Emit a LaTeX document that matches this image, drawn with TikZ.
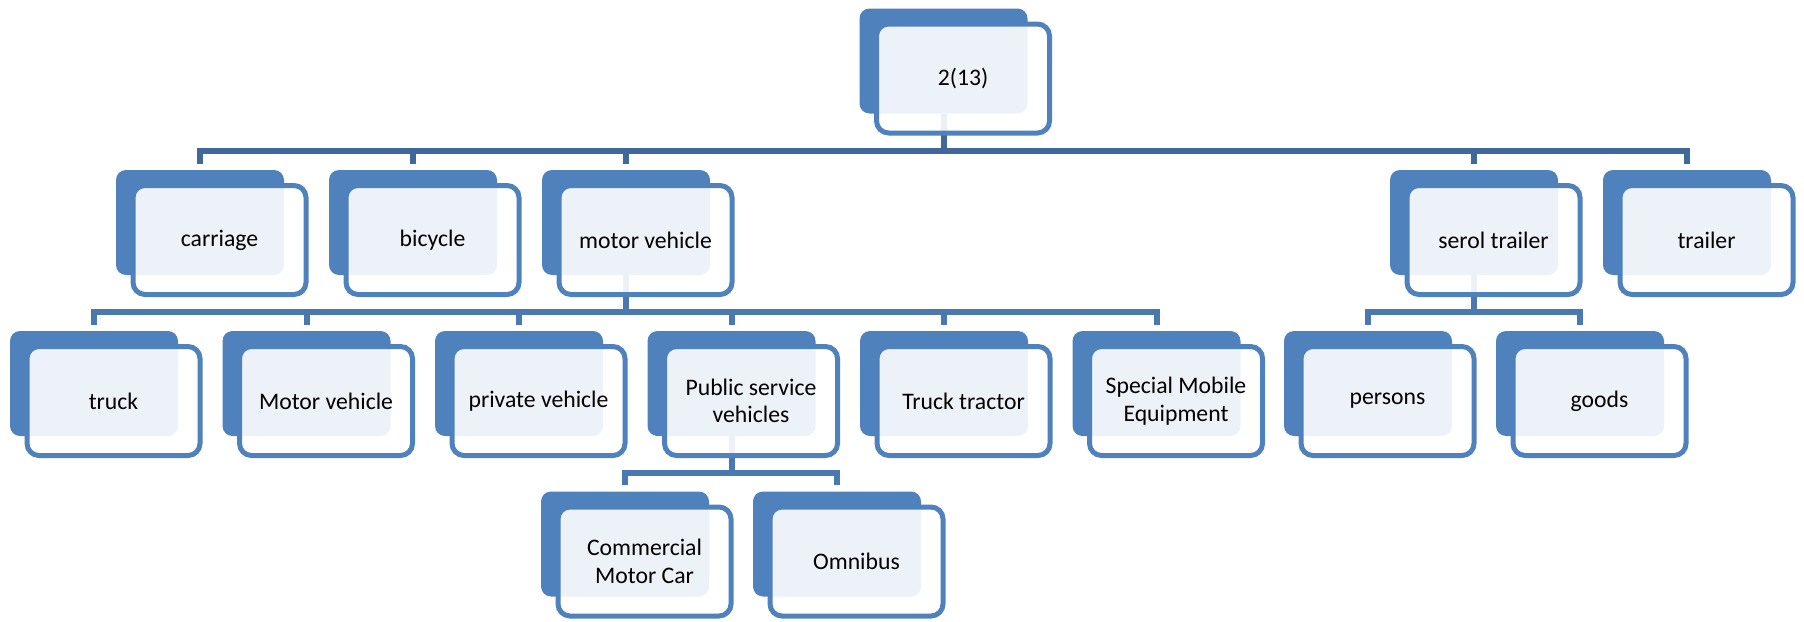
\documentclass[tikz,border=0pt]{standalone}
\usepackage{fontspec}
\setmainfont{Carlito}
\usetikzlibrary{backgrounds}
\definecolor{sablue}{HTML}{4F81BD}
\definecolor{connA}{HTML}{40689B}
\definecolor{connB}{HTML}{4A78B1}
\newcommand\hierbox[4]{%
  \node[backbox] (#1-b) at (#2,#3) {};
  \node[frontbox] (#1) at ([shift={(19.5,17.5)}]#1-b.center) {#4};
}
\begin{document}
\begin{tikzpicture}[x=1pt,y=-1pt,
  backbox/.style={rectangle, rounded corners=10pt, fill=sablue, draw=none,
    minimum width=168pt, minimum height=105pt, inner sep=0pt},
  frontbox/.style={rectangle, rounded corners=12pt, draw=sablue, line width=5pt,
    fill=white, fill opacity=0.9, text opacity=1, text=black,
    minimum width=173pt, minimum height=109pt, inner sep=0pt, align=center,
    font=\fontsize{23.7}{27.5}\selectfont},
  connone/.style={draw=connA, line width=6pt, line join=miter, shorten >=6pt},
  conntwo/.style={draw=connB, line width=6pt, line join=miter, shorten >=6pt}]
\useasboundingbox (0,0) rectangle (1804,621);

% level 0
\hierbox{root}{943.5}{61}{2(13)}
% level 1
\hierbox{carriage}{200}{222.5}{carriage}
\hierbox{bicycle}{413}{222.5}{bicycle}
\hierbox{motor}{626}{222.5}{motor vehicle}
\hierbox{serol}{1474}{222.5}{serol trailer}
\hierbox{trailer}{1687}{222.5}{trailer}
% level 2
\hierbox{truck}{94}{383.5}{truck}
\hierbox{motorv}{306.5}{383.5}{Motor vehicle}
\hierbox{private}{519}{383.5}{private vehicle}
\hierbox{public}{731.5}{383.5}{Public service\\vehicles}
\hierbox{tractor}{944}{383.5}{Truck tractor}
\hierbox{special}{1156.5}{383.5}{Special Mobile\\Equipment}
\hierbox{persons}{1368}{383.5}{persons}
\hierbox{goods}{1580}{383.5}{goods}
% level 3
\hierbox{commercial}{625}{544}{Commercial\\Motor Car}
\hierbox{omnibus}{837}{544}{Omnibus}

\begin{scope}[on background layer]
  \foreach \c in {carriage,bicycle,motor,serol,trailer}
    \draw[connone] (root-b.south) -- (root-b.south |- 0,151) -| (\c-b.north);
  \foreach \c in {truck,motorv,private,public,tractor,special}
    \draw[conntwo] (motor-b.south) -- (motor-b.south |- 0,312) -| (\c-b.north);
  \foreach \c in {persons,goods}
    \draw[conntwo] (serol-b.south) -- (serol-b.south |- 0,312) -| (\c-b.north);
  \foreach \c in {commercial,omnibus}
    \draw[conntwo] (public-b.south) -- (public-b.south |- 0,472.5) -| (\c-b.north);
\end{scope}
\end{tikzpicture}
\end{document}
